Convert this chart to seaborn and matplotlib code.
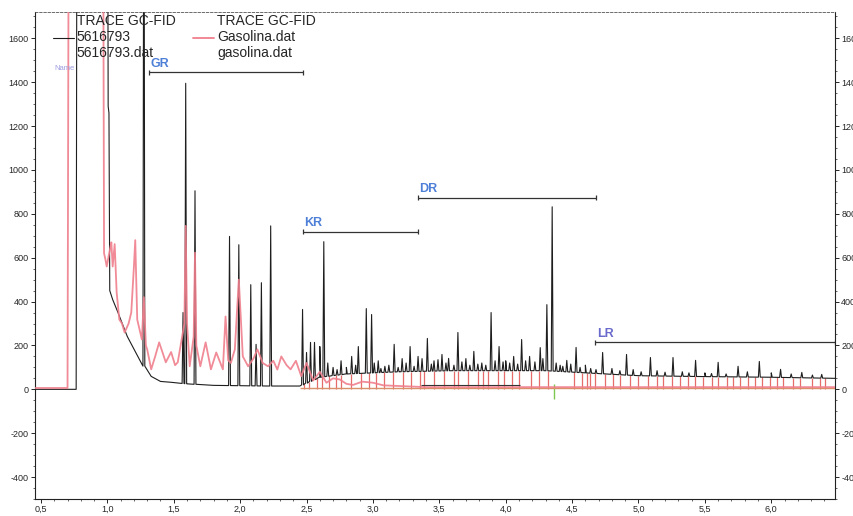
import numpy as np
import matplotlib
matplotlib.use("Agg")
import matplotlib.pyplot as plt
from matplotlib.lines import Line2D
from matplotlib.ticker import MultipleLocator
import seaborn as sns

# --- Data ---
# 5616793.dat (black): baseline anchors (time, signal)
black_base_t = [0.455, 0.765, 0.772, 1.0, 1.006, 1.012, 1.018, 1.04, 1.08, 1.15, 1.25,
                1.33, 1.40, 1.48, 1.60, 1.80, 2.20, 2.45, 2.60, 2.80, 3.20, 3.60,
                4.00, 4.30, 4.60, 5.00, 5.50, 6.00, 6.48]
black_base_y = [0, 0, 3000, 3000, 1290, 1260, 450, 409, 350, 241, 127,
                59, 36, 32, 25, 18, 15, 15, 55, 70, 80, 85,
                85, 85, 75, 62, 58, 55, 50]
# black peaks (time, apex)
black_peak_t = [1.275, 1.57, 1.59, 1.66, 1.92, 1.99, 2.08, 2.12, 2.16, 2.23, 2.47, 2.50,
                2.53, 2.56, 2.60, 2.63, 2.66, 2.70, 2.73, 2.76, 2.80, 2.84, 2.87, 2.89,
                2.95, 2.99, 3.01, 3.04, 3.06, 3.09, 3.12, 3.16, 3.19, 3.22, 3.25, 3.28,
                3.31, 3.34, 3.37, 3.41, 3.44, 3.46, 3.49, 3.52, 3.55, 3.57, 3.61, 3.64,
                3.67, 3.70, 3.73, 3.76, 3.79, 3.82, 3.85, 3.89, 3.92, 3.95, 3.98, 4.00,
                4.03, 4.06, 4.09, 4.12, 4.15, 4.18, 4.22, 4.26, 4.28, 4.31, 4.35, 4.38,
                4.41, 4.43, 4.46, 4.49, 4.53, 4.56, 4.60, 4.64, 4.68, 4.73, 4.80, 4.86,
                4.91, 4.96, 5.02, 5.09, 5.14, 5.20, 5.26, 5.33, 5.38, 5.43, 5.50, 5.55,
                5.60, 5.66, 5.75, 5.82, 5.91, 6.00, 6.07, 6.15, 6.23, 6.31, 6.38]
black_peak_h = [3000, 350, 1395, 905, 697, 659, 477, 205, 486, 745, 364, 168,
                214, 214, 195, 673, 120, 100, 90, 130, 100, 150, 110, 195,
                368, 341, 120, 130, 95, 105, 110, 205, 100, 140, 120, 195,
                105, 150, 140, 232, 115, 130, 135, 159, 120, 141, 110, 259,
                125, 140, 110, 173, 115, 120, 110, 350, 130, 195, 125, 130,
                120, 150, 115, 227, 130, 150, 125, 190, 140, 386, 832, 120,
                110, 105, 132, 115, 191, 100, 110, 95, 90, 168, 95, 85,
                159, 90, 80, 145, 85, 78, 145, 80, 75, 132, 75, 72,
                123, 70, 105, 80, 127, 75, 91, 70, 77, 65, 68]

# gasolina.dat (pink): vertices (time, signal)
pink_t = [0.455, 0.70, 0.712, 0.965, 0.975, 0.985, 0.995, 1.02, 1.03, 1.04, 1.055, 1.07,
          1.09, 1.11, 1.13, 1.16, 1.18, 1.20, 1.21, 1.225, 1.26, 1.275, 1.29, 1.30, 1.33,
          1.36, 1.39, 1.42, 1.44, 1.48, 1.51, 1.53, 1.58, 1.59, 1.60, 1.62, 1.65, 1.66,
          1.67, 1.70, 1.74, 1.78, 1.82, 1.87, 1.89, 1.91, 1.93, 1.96, 1.99, 2.02, 2.06,
          2.10, 2.13, 2.17, 2.21, 2.25, 2.28, 2.31, 2.35, 2.38, 2.42, 2.46, 2.50, 2.55,
          2.60, 2.65, 2.70, 2.75, 2.80, 2.85, 2.92, 3.00, 3.08, 3.20, 3.40, 6.48]
pink_y = [6, 6, 3000, 3000, 620, 593, 560, 640, 670, 560, 662, 441,
          318, 300, 259, 300, 350, 560, 680, 318, 227, 420, 200, 182, 91,
          150, 214, 160, 123, 170, 110, 123, 300, 745, 300, 105, 240, 623,
          200, 105, 214, 91, 168, 91, 332, 132, 120, 182, 500, 150, 105,
          140, 182, 120, 105, 130, 90, 150, 110, 91, 130, 60, 120, 40,
          80, 30, 50, 45, 25, 20, 35, 30, 18, 15, 10, 10]

# integration drop lines (red) and the green marker
drop_t = [2.48, 2.52, 2.58, 2.62, 2.67, 2.72, 2.757, 2.833, 2.908, 2.968, 3.021, 3.081,
          3.149, 3.224, 3.284, 3.352, 3.382, 3.457, 3.532, 3.608, 3.638, 3.713, 3.788,
          3.826, 3.863, 3.939, 3.984, 4.051, 4.097, 4.187, 4.247, 4.315, 4.511, 4.578,
          4.616, 4.638, 4.676, 4.751, 4.811, 4.864, 4.939, 5.000, 5.075, 5.143, 5.188,
          5.255, 5.316, 5.376, 5.429, 5.489, 5.557, 5.602, 5.670, 5.715, 5.767, 5.827,
          5.880, 5.933, 5.993, 6.045, 6.090, 6.165, 6.218, 6.308, 6.368, 6.406]
green_t = [4.365]

# retention ranges: name, start, end, level
range_names = ["GR", "KR", "DR", "LR"]
range_start = [1.312, 2.47, 3.34, 4.675]
range_end = [2.477, 3.34, 4.68, 6.48]
range_level = [1445, 718, 873, 214]

x_ticks = [0.5, 1.0, 1.5, 2.0, 2.5, 3.0, 3.5, 4.0, 4.5, 5.0, 5.5, 6.0]
x_tick_labels = ["0,5", "1,0", "1,5", "2,0", "2,5", "3,0", "3,5", "4,0", "4,5", "5,0", "5,5", "6,0"]
y_ticks = [-400, -200, 0, 200, 400, 600, 800, 1000, 1200, 1400, 1600]


def build_trace(base_t, base_y, peak_t, peak_h, hw=0.007):
    pts = list(zip(base_t, base_y))
    for t, h in zip(peak_t, peak_h):
        b = np.interp(t, base_t, base_y)
        pts += [(t - hw, b), (t, h), (t + hw, b)]
    pts.sort()
    return [p[0] for p in pts], [p[1] for p in pts]


sns.set_theme(style="ticks")
plt.rcParams["font.family"] = ["Liberation Sans", "DejaVu Sans"]
plt.rcParams["axes.unicode_minus"] = False

fig = plt.figure(figsize=(8.54, 5.16), dpi=100)
ax = fig.add_axes([35 / 854, 17 / 516, 800 / 854, 487 / 516])

bx, by = build_trace(black_base_t, black_base_y, black_peak_t, black_peak_h)

# drop lines under the traces
drop_top = np.interp(drop_t, black_base_t, black_base_y)
ax.vlines(drop_t, 0, drop_top, colors="#e66b6b", linewidth=0.9, zorder=1)
ax.vlines(green_t, -45, 25, colors="#7ec850", linewidth=1.0, zorder=1)
ax.hlines(8, 2.45, 6.48, colors="#d8906a", linewidth=1.0, zorder=1)
ax.hlines(18, 3.36, 4.11, colors="#333333", linewidth=0.8, zorder=1)

sns.lineplot(x=bx, y=by, sort=False, estimator=None, color="#1e1e1e",
             linewidth=0.8, ax=ax, zorder=2)
sns.lineplot(x=pink_t, y=pink_y, sort=False, estimator=None, color="#ef7f8c",
             linewidth=1.3, alpha=0.9, ax=ax, zorder=3)

# range brackets
for name, s, e, lv in zip(range_names, range_start, range_end, range_level):
    ax.hlines(lv, s, e, colors="#333333", linewidth=0.9, zorder=4)
    ax.vlines([s, e], lv - 12, lv + 12, colors="#333333", linewidth=0.9, zorder=4)
    ax.text(s + 0.01, lv + 40, name, color="#6a6acc" if name == "LR" else "#4f80d8",
            fontsize=9, fontweight="bold", ha="left", va="center")

ax.text(0.598, 1461, "Name", color="#9c9ce0", fontsize=5.5, ha="left", va="center")

ax.set_xlim(0.455, 6.48)
ax.set_ylim(-500, 1720)
ax.set_xticks(x_ticks)
ax.set_xticklabels(x_tick_labels)
ax.set_yticks(y_ticks)
ax.xaxis.set_minor_locator(MultipleLocator(0.1))
ax.yaxis.set_minor_locator(MultipleLocator(50))
ax.tick_params(axis="both", which="major", labelsize=6.5, length=3, width=0.7, pad=1.5)
ax.tick_params(axis="both", which="minor", length=1.5, width=0.5)
ax.tick_params(axis="y", which="both", left=True, right=True, labelleft=True, labelright=True)
for side in ["left", "right", "bottom"]:
    ax.spines[side].set_linewidth(0.8)
    ax.spines[side].set_color("#222222")
ax.spines["top"].set_linestyle((0, (3, 2)))
ax.spines["top"].set_linewidth(0.6)
ax.spines["top"].set_color("#555555")

handles = [Line2D([], [], color="#1e1e1e", linewidth=0.8),
           Line2D([], [], color="#ef7f8c", linewidth=1.3)]
labels = ["TRACE GC-FID\n5616793\n5616793.dat", "TRACE GC-FID\nGasolina.dat\ngasolina.dat"]
ax.legend(handles, labels, loc="upper left", bbox_to_anchor=(53 / 854, 1 - 14 / 516),
          bbox_transform=fig.transFigure, ncol=2, frameon=False, fontsize=10,
          handlelength=1.5, handletextpad=0.2, columnspacing=1.3,
          borderpad=0, borderaxespad=0)

fig.savefig("out.png", dpi=100)
